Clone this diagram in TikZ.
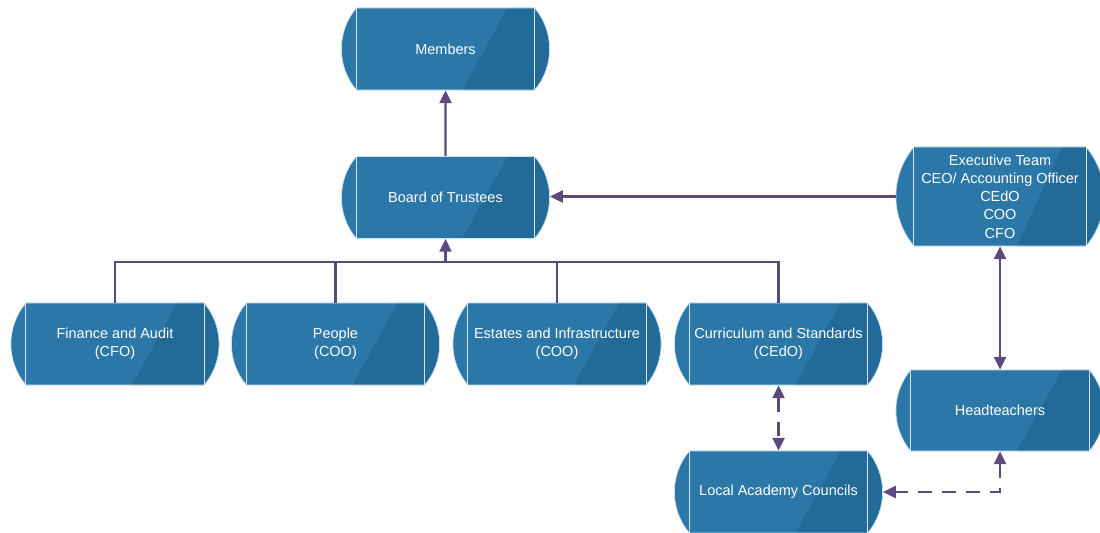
\documentclass[tikz,border=0pt]{standalone}
\usepackage{fontspec}
\setmainfont{Liberation Sans}
\usepackage{tikz}
\usetikzlibrary{arrows.meta, calc, shapes.misc}
\definecolor{boxblue}{HTML}{2A77A8}
\definecolor{boxdark}{HTML}{226B98}
\definecolor{boxedge}{HTML}{D2E3EF}
\definecolor{linkpurple}{HTML}{5C4A7D}

\begin{document}
\begin{tikzpicture}[x=0.025cm, y=-0.025cm,
  govbox/.style={rounded rectangle, rounded rectangle arc length=80,
    draw=boxedge, line width=0.5pt, fill=boxblue, text=white,
    minimum width=5.275cm, minimum height=2.05cm, inner sep=1pt,
    align=center, font=\fontsize{10.3}{13}\selectfont,
    path picture={\fill[boxdark] ([xshift=0.425cm]path picture bounding box.south)
      -- ([xshift=1.55cm]path picture bounding box.north)
      -- (path picture bounding box.north east)
      -- (path picture bounding box.south east) -- cycle;}},
  link/.style={linkpurple, line width=1.6pt},
  tip/.style={-{Triangle[length=3.2mm, width=3mm]}},
  twotip/.style={{Triangle[length=3.2mm, width=3mm]}-{Triangle[length=3.2mm, width=3mm]}},
  dashlink/.style={link, dash pattern=on 0.35cm off 0.25cm}]
\useasboundingbox (0,0) rectangle (1100,533);
% boxes
\node[govbox] (members) at (445.5,49) {Members};
\node[govbox] (board) at (445.5,197.5) {Board of Trustees};
\node[govbox, minimum height=2.475cm] (exec) at (1000,196.5) {Executive Team\\CEO/ Accounting Officer\\CEdO\\COO\\CFO};
\node[govbox] (finance) at (115,344) {Finance and Audit\\(CFO)};
\node[govbox] (people) at (335.5,344) {People\\(COO)};
\node[govbox] (estates) at (557,344) {Estates and Infrastructure\\(COO)};
\node[govbox] (curric) at (778.5,344) {Curriculum and Standards\\(CEdO)};
\node[govbox, minimum height=2.025cm] (head) at (1000,410.5) {Headteachers};
\node[govbox] (lac) at (778.5,492) {Local Academy Councils};
\foreach \n in {members,board,exec,finance,people,estates,curric,head,lac}
  \draw[boxedge, line width=0.6pt] (\n.north west) -- (\n.south west) (\n.north east) -- (\n.south east);
% connectors
\coordinate (bus) at (445.5,262);
\draw[link, tip] (board) -- (members);
\draw[link, tip] (exec.west) -- (exec.west -| board.east);
\draw[link, tip] (bus) -- (board.south);
\foreach \n in {finance,people,estates,curric} \draw[link] (\n.north) |- (bus);
\draw[link, twotip] (exec.south) -- (head.north);
\draw[dashlink, twotip] (curric.south) -- (lac.north);
\draw[dashlink, twotip] (head.south) |- (lac.east);
\end{tikzpicture}
\end{document}
